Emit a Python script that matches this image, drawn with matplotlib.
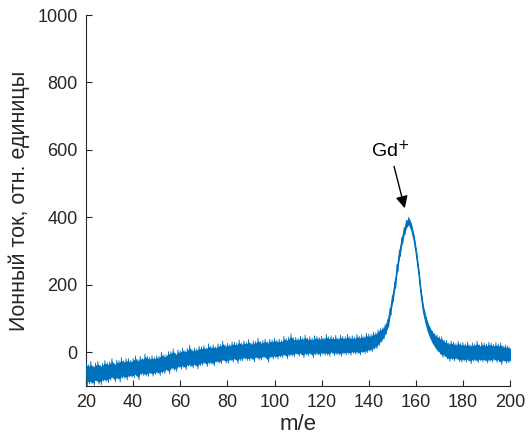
import numpy as np
import matplotlib
matplotlib.use("Agg")
import matplotlib.pyplot as plt

plt.rcParams['font.family'] = ['Liberation Sans', 'DejaVu Sans']

# m/e grid (1 unit steps)
mz = list(range(20, 201))

# centre of the noisy trace
signal_mid = [
    -60, -62, -65, -63, -60, -62, -58, -60, -57, -55,
    -55, -53, -55, -52, -50, -52, -48, -47, -50, -46,
    -45, -44, -46, -42, -40, -43, -38, -40, -41, -38,
    -38, -36, -35, -33, -30, -28, -25, -24, -25, -22,
    -20, -19, -18, -17, -15, -16, -14, -12, -13, -10,
    -9, -10, -8, -7, -6, -5, -5, -3, -2, -2,
    0, 1, 0, 2, 3, 2, 4, 5, 4, 6,
    5, 6, 7, 6, 8, 8, 9, 8, 10, 10,
    11, 12, 11, 13, 14, 15, 16, 15, 18, 17,
    18, 18, 17, 19, 18, 18, 19, 18, 20, 19,
    19, 20, 19, 20, 21, 20, 19, 20, 21, 20,
    21, 21, 22, 21, 22, 23, 22, 23, 24, 25,
    27, 29, 32, 36, 42, 50, 55, 68, 85, 120,
    158, 200, 250, 295, 330, 360, 380, 388, 372, 342,
    298, 245, 180, 130, 100, 75, 58, 45, 35, 27,
    21, 16, 12, 8, 6, 5, 4, 3, 2, 2,
    1, 1, 0, 0, 1, 0, 0, -1, 0, 1,
    0, -1, 0, 1, 0, -1, -2, -3, -4, -5,
    -5,
]

# upward / downward noise excursions around the centre
noise_up = [
    30, 25, 38, 22, 28, 35, 20, 27, 32, 24,
    26, 34, 21, 29, 25, 36, 23, 28, 31, 22,
    27, 33, 24, 30, 22, 38, 26, 25, 31, 23,
    28, 24, 35, 26, 22, 30, 27, 34, 21, 29,
    25, 32, 23, 28, 36, 24, 27, 22, 31, 26,
    29, 23, 33, 25, 28, 21, 30, 26, 35, 24,
    27, 22, 31, 28, 24, 34, 23, 29, 26, 32,
    22, 28, 25, 36, 24, 27, 30, 23, 29, 26,
    31, 24, 28, 22, 33, 26, 29, 40, 25, 27,
    23, 30, 26, 32, 24, 28, 22, 31, 27, 25,
    29, 23, 34, 26, 28, 24, 31, 22, 30, 27,
    25, 32, 24, 28, 23, 30, 26, 29, 24, 31,
    27, 24, 28, 22, 24, 20, 18, 14, 12, 10,
    11, 9, 10, 8, 10, 9, 11, 12, 10, 9,
    10, 9, 11, 10, 12, 14, 16, 18, 20, 24,
    25, 30, 24, 27, 22, 29, 26, 23, 31, 25,
    28, 24, 30, 22, 27, 25, 33, 23, 29, 26,
    24, 31, 27, 22, 28, 25, 30, 23, 26, 24,
    22,
]
noise_down = [
    40, 32, 28, 36, 25, 33, 38, 26, 30, 35,
    28, 24, 33, 27, 38, 25, 30, 35, 24, 29,
    31, 26, 36, 24, 29, 27, 34, 23, 30, 28,
    25, 33, 27, 30, 24, 36, 26, 29, 32, 23,
    30, 26, 34, 24, 28, 31, 25, 38, 27, 29,
    24, 32, 27, 29, 35, 25, 28, 31, 23, 30,
    33, 26, 29, 24, 36, 27, 30, 25, 28, 31,
    26, 35, 24, 29, 31, 25, 28, 38, 26, 30,
    27, 32, 25, 29, 24, 34, 28, 26, 31, 23,
    30, 25, 33, 27, 29, 24, 35, 26, 28, 31,
    25, 29, 27, 32, 24, 30, 26, 28, 33, 25,
    29, 26, 31, 24, 28, 27, 30, 25, 28, 26,
    24, 27, 23, 25, 22, 20, 16, 14, 11, 10,
    9, 10, 9, 11, 8, 10, 9, 10, 11, 9,
    10, 11, 10, 12, 13, 15, 17, 20, 22, 25,
    26, 31, 25, 28, 33, 27, 30, 24, 29, 32,
    27, 30, 25, 34, 28, 26, 31, 24, 29, 27,
    32, 26, 29, 25, 30, 27, 35, 24, 28, 26,
    25,
]

x_ticks = [20, 40, 60, 80, 100, 120, 140, 160, 180, 200]
y_ticks = [0, 200, 400, 600, 800, 1000]

BLUE = '#0072BD'
TXT = '#262626'

mz_a = np.array(mz, dtype=float)
mid = np.array(signal_mid, dtype=float)
up = np.array(noise_up, dtype=float)
dn = np.array(noise_down, dtype=float)
hi = mid + up
lo = mid - dn

# zig-zag trace between the upper and lower excursions
xz = np.empty(2 * len(mz_a) - 1)
yz = np.empty(2 * len(mz_a) - 1)
xz[0::2] = mz_a
yz[0::2] = hi
xz[1::2] = mz_a[:-1] + 0.5
yz[1::2] = lo[:-1]

fig = plt.figure(figsize=(5.28, 4.47), dpi=100)
ax = fig.add_axes([0.163, 0.1365, 0.803, 0.8299])

ax.fill_between(mz_a, mid - 0.72 * dn, mid + 0.72 * up, color=BLUE, lw=0.8, zorder=2)
ax.plot(xz, yz, color=BLUE, lw=0.6, zorder=3)

ax.set_xlim(20, 200)
ax.set_ylim(-100, 1000)
ax.set_xticks(x_ticks)
ax.set_yticks(y_ticks)

for s in ['top', 'right']:
    ax.spines[s].set_visible(False)
for s in ['left', 'bottom']:
    ax.spines[s].set_color(TXT)
    ax.spines[s].set_linewidth(0.8)

ax.tick_params(direction='in', length=4, width=0.8, color=TXT,
               labelcolor=TXT, labelsize=13)
ax.tick_params(axis='x', pad=6)
ax.tick_params(axis='y', pad=6)

ax.set_xlabel('m/e', fontsize=16, color=TXT, labelpad=2)
ax.set_ylabel('Ионный ток, отн. единицы', fontsize=15.5, color=TXT, labelpad=5)

ax.annotate('Gd$^{+}$', xy=(155.3, 427), xytext=(149.0, 599),
            fontsize=14, color='black', ha='center', va='center',
            arrowprops=dict(arrowstyle='-|>', color='black', lw=1.0,
                            mutation_scale=18, shrinkA=2, shrinkB=0))

fig.savefig('out.png', dpi=100)
